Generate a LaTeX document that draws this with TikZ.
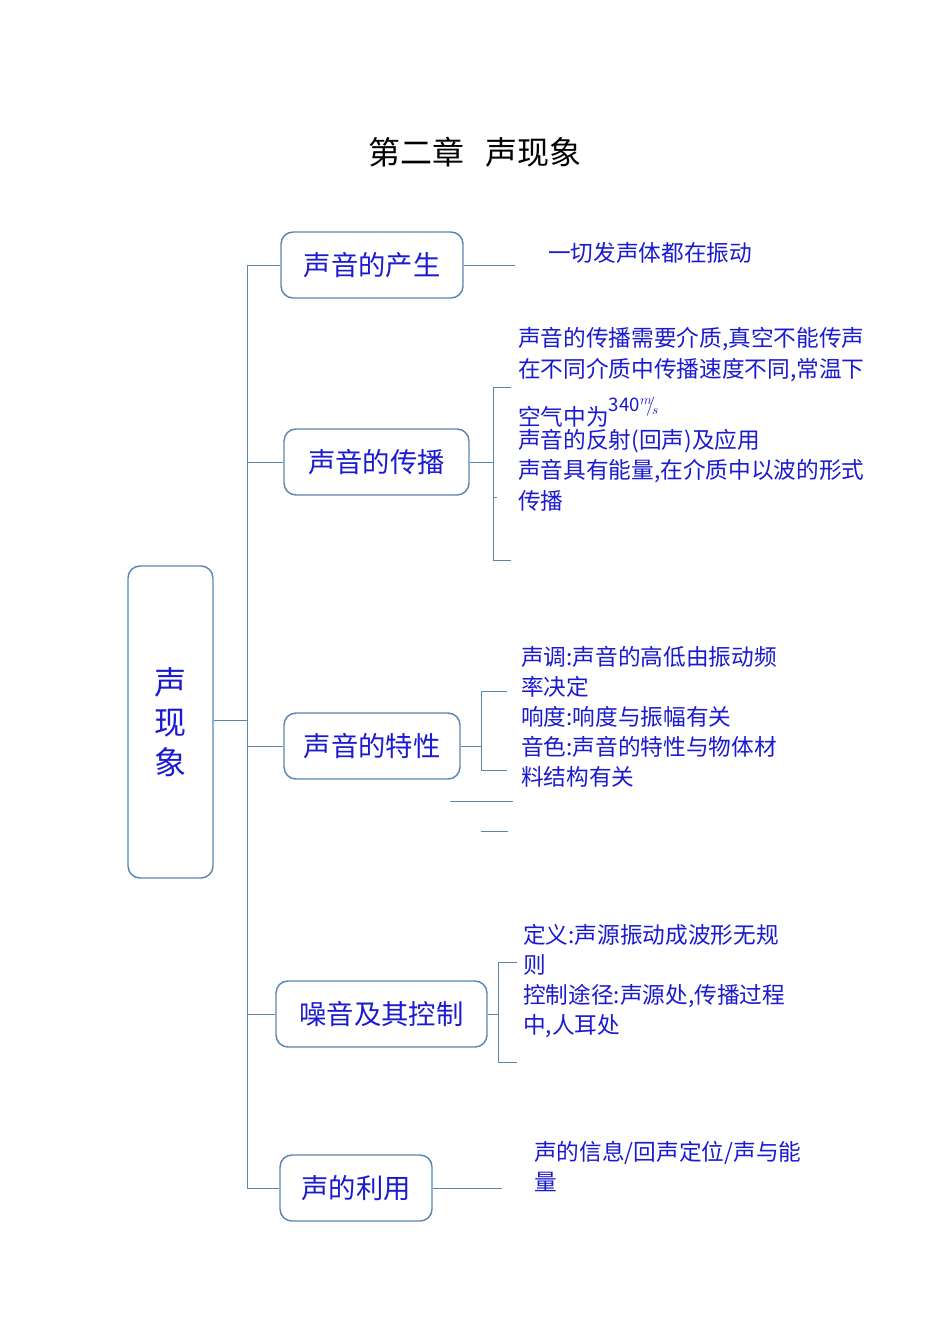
\documentclass[tikz,border=0pt]{standalone}
\usepackage{fontspec}
\newfontfamily\cjk{Noto Sans CJK SC}
\begin{document}
\begin{tikzpicture}[x=0.75pt,y=-0.75pt,
  ln/.style={draw=lineblue,line width=0.7pt},
  bbox/.style={draw=lineblue,line width=1.1pt,rounded corners=9pt,font=\cjk\fontsize{20.5}{24}\selectfont,text=txtblue},
  leaf/.style={anchor=west,font=\cjk\fontsize{17}{22.5}\selectfont,text=txtblue,inner sep=0pt,align=left}]
\definecolor{lineblue}{HTML}{5B86B0}
\definecolor{txtblue}{HTML}{1A1AD0}
\useasboundingbox (0,0) rectangle (950,1344);
\node[font=\cjk\fontsize{24}{28}\selectfont] (title) at (475,152) {第二章\ \ \ 声现象};
\node[bbox,minimum width=85*0.75pt,minimum height=312*0.75pt,align=center,font=\cjk\fontsize{24}{30}\selectfont] (root) at (170.5,722) {声\\现\\象};
\node[bbox,minimum width=182*0.75pt,minimum height=66*0.75pt] (b1) at (372,265) {声音的产生};
\node[bbox,minimum width=185*0.75pt,minimum height=66*0.75pt] (b2) at (376.5,462) {声音的传播};
\node[bbox,minimum width=176*0.75pt,minimum height=66*0.75pt] (b3) at (372,746) {声音的特性};
\node[bbox,minimum width=211*0.75pt,minimum height=66*0.75pt] (b4) at (381.5,1014) {噪音及其控制};
\node[bbox,minimum width=152*0.75pt,minimum height=66*0.75pt] (b5) at (356,1188) {声的利用};
\coordinate (j) at (247,720);
\draw[ln] (root.east|-j) -- (j);
\draw[ln] (247,265) -- (247,1188);
\foreach \b in {b1,b2,b3,b4,b5} \draw[ln] (247,0|-\b.west) -- (\b.west);
% right side
\coordinate (e1) at (515,265);
\draw[ln] (b1.east) -- (e1);
\draw[ln] (b2.east) -- (493,462);
\draw[ln] (511,387) -- (493,387) -- (493,560) -- (511,560);
\draw[ln] (493,497) -- (497,497);
\draw[ln] (b3.east) -- (481,746);
\draw[ln] (507,691) -- (481,691) -- (481,770) -- (507,770);
\draw[ln] (450,801) -- (513,801);
\draw[ln] (481,831) -- (508,831);
\draw[ln] (b4.east) -- (498,1014);
\draw[ln] (517,962) -- (498,962) -- (498,1062) -- (517,1062);
\draw[ln] (b5.east) -- (502,1188);
% leaves
\node[leaf] (t1) at (548,253) {一切发声体都在振动};
\node[leaf] (t2a) at (518,339) {声音的传播需要介质,真空不能传声};
\node[leaf] (t2b) at (518,370) {在不同介质中传播速度不同,常温下};
\node[leaf] (t2c) at (518,412) {空气中为\raisebox{1.1ex}{\fontsize{14}{14}\selectfont 340$^{m}\!\!/\!_{s}$}};
\node[leaf] (t2d) at (518,441) {声音的反射(回声)及应用};
\node[leaf] (t2e) at (518,471) {声音具有能量,在介质中以波的形式};
\node[leaf] (t2f) at (518,501) {传播};
\node[leaf] (t3) at (521,717) {声调:声音的高低由振动频\\率决定\\响度:响度与振幅有关\\音色:声音的特性与物体材\\料结构有关};
\node[leaf] (t4) at (523,981) {定义:声源振动成波形无规\\则\\控制途径:声源处,传播过程\\中,人耳处};
\node[leaf] (t5) at (534,1166) {声的信息/回声定位/声与能\\量};
\end{tikzpicture}
\end{document}
